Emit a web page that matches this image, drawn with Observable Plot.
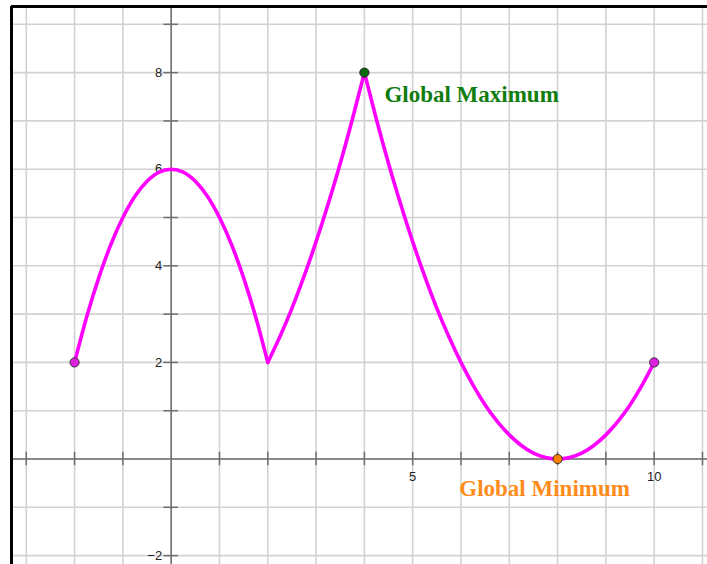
<!DOCTYPE html>
<html>
<head>
<meta charset="utf-8">
<script src="https://cdn.jsdelivr.net/npm/d3@7"></script>
<script src="https://cdn.jsdelivr.net/npm/@observablehq/plot@0.6"></script>
<style>
  html, body { margin: 0; padding: 0; background: #fff; }
  svg { display: block; }
</style>
</head>
<body>
<div id="chart"></div>
<script>
// ---- data ----
const seg1X = [-2, -1.75, -1.5, -1.25, -1, -0.75, -0.5, -0.25, 0, 0.25, 0.5, 0.75, 1, 1.25, 1.5, 1.75, 2];
const seg1Y = [2, 2.94, 3.75, 4.44, 5, 5.44, 5.75, 5.94, 6, 5.94, 5.75, 5.44, 5, 4.44, 3.75, 2.94, 2];
const seg2X = [2, 2.25, 2.5, 2.75, 3, 3.25, 3.5, 3.75, 4];
const seg2Y = [2, 2.53, 3.12, 3.78, 4.5, 5.28, 6.12, 7.03, 8];
const seg3X = [4, 4.25, 4.5, 4.75, 5, 5.25, 5.5, 5.75, 6, 6.25, 6.5, 6.75, 7, 7.25, 7.5, 7.75, 8,
               8.25, 8.5, 8.75, 9, 9.25, 9.5, 9.75, 10];
const seg3Y = [8, 7.03, 6.12, 5.28, 4.5, 3.78, 3.12, 2.53, 2, 1.53, 1.12, 0.78, 0.5, 0.28, 0.12, 0.03, 0,
               0.03, 0.12, 0.28, 0.5, 0.78, 1.12, 1.53, 2];

const endPointsX = [-2, 10];
const endPointsY = [2, 2];
const maxPoint = [4, 8];
const minPoint = [8, 0];
const maxLabel = "Global Maximum";
const minLabel = "Global Minimum";

const gridXValues = [-3, -2, -1, 0, 1, 2, 3, 4, 5, 6, 7, 8, 9, 10, 11];
const gridYValues = [-2, -1, 0, 1, 2, 3, 4, 5, 6, 7, 8, 9];
const xTickLabels = [5, 10];
const yTickLabels = [-2, 2, 4, 6, 8];

// ---- build tables ----
const curve = [
  ...seg1X.map((x, i) => ({x, y: seg1Y[i], seg: 1})),
  ...seg2X.map((x, i) => ({x, y: seg2Y[i], seg: 2})),
  ...seg3X.map((x, i) => ({x, y: seg3Y[i], seg: 3}))
];
const ends = endPointsX.map((x, i) => ({x, y: endPointsY[i]}));

const xDomain = [-3.306, 11.104];
const yDomain = [-2.184, 9.369];
const fmt = d => (d < 0 ? "\u2212" + Math.abs(d) : String(d));

const chart = Plot.plot({
  width: 707,
  height: 564,
  marginLeft: 11,
  marginTop: 6,
  marginRight: 0,
  marginBottom: 0,
  x: {domain: xDomain, axis: null},
  y: {domain: yDomain, axis: null},
  style: {background: "#fff", overflow: "hidden"},
  marks: [
    // grid
    Plot.ruleX(gridXValues, {stroke: "#d2d2d2", strokeWidth: 1.6}),
    Plot.ruleY(gridYValues, {stroke: "#d2d2d2", strokeWidth: 1.6}),
    // axes
    Plot.ruleX([0], {stroke: "#6e6e6e", strokeWidth: 1.5}),
    Plot.ruleY([0], {stroke: "#6e6e6e", strokeWidth: 1.5}),
    // tick marks
    Plot.ruleY(gridYValues.filter(d => d !== 0), {x1: -0.15, x2: 0.15, stroke: "#6e6e6e", strokeWidth: 1.5}),
    Plot.ruleX(gridXValues.filter(d => d !== 0), {y1: -0.14, y2: 0.14, stroke: "#6e6e6e", strokeWidth: 1.5}),
    // tick labels
    Plot.text(yTickLabels, {x: 0, y: d => d, text: fmt, dx: -9, textAnchor: "end",
      fontSize: 13, fill: "#222", fontFamily: "Liberation Sans, Arial, sans-serif"}),
    Plot.text(xTickLabels, {x: d => d, y: 0, text: fmt, dy: 18,
      fontSize: 13, fill: "#222", fontFamily: "Liberation Sans, Arial, sans-serif"}),
    // border (left & top)
    Plot.ruleX([xDomain[0]], {stroke: "#000", strokeWidth: 3}),
    Plot.ruleY([yDomain[1]], {stroke: "#000", strokeWidth: 3}),
    // curve
    Plot.line(curve, {x: "x", y: "y", z: "seg", curve: "monotone-x",
      stroke: "#ff00ff", strokeWidth: 3.6, strokeLinejoin: "miter"}),
    // points
    Plot.dot(ends, {x: "x", y: "y", r: 4.6, fill: "#e020e0", stroke: "#333", strokeWidth: 1}),
    Plot.dot([maxPoint], {x: d => d[0], y: d => d[1], r: 4.6, fill: "#0c6a0c", stroke: "#222", strokeWidth: 1}),
    Plot.dot([minPoint], {x: d => d[0], y: d => d[1], r: 4.6, fill: "#ff8000", stroke: "#333", strokeWidth: 1}),
    // annotations
    Plot.text([maxPoint], {x: d => d[0], y: d => d[1], text: () => maxLabel,
      dx: 20, dy: 22, textAnchor: "start", fill: "#0f7d0f", fontWeight: "bold",
      fontSize: 23, fontFamily: "Liberation Serif, serif"}),
    Plot.text([minPoint], {x: d => d[0], y: d => d[1], text: () => minLabel,
      dx: -13, dy: 30, textAnchor: "middle", fill: "#ff8c1a", fontWeight: "bold",
      fontSize: 23, fontFamily: "Liberation Serif, serif"})
  ]
});
document.getElementById("chart").appendChild(chart);
</script>
</body>
</html>
